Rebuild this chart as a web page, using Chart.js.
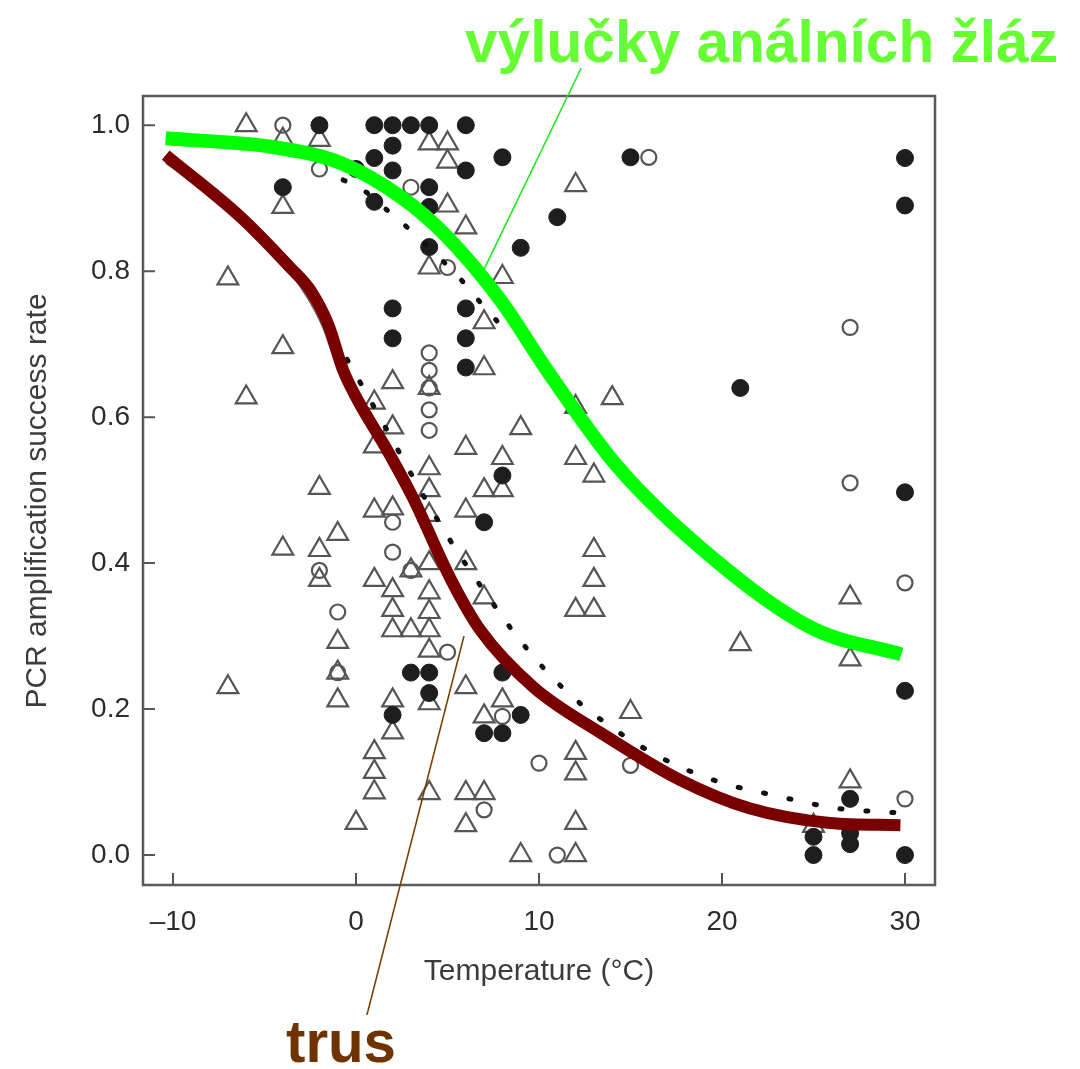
<!DOCTYPE html>
<html>
<head>
<meta charset="utf-8">
<script src="https://cdn.jsdelivr.net/npm/chart.js@4.4.1/dist/chart.umd.min.js"></script>
<style>
  html, body { margin: 0; background: #fff; }
  #wrap { width: 1080px; height: 1069px; }
</style>
</head>
<body>
<div id="wrap"><canvas id="pcrChart"></canvas></div>
<script>
// Axis ticks
const xTicks = [-10, 0, 10, 20, 30];
const yTicks = [0, 0.2, 0.4, 0.6, 0.8, 1.0];

// Samples: [temperature °C, PCR amplification success rate]
const filledPts = [
  [-4, 0.915], [-2, 1.0], [0, 0.94], [1, 1.0], [2, 1.0], [3, 1.0], [4, 1.0], [6, 1.0],
  [2, 0.972], [1, 0.955], [2, 0.938], [1, 0.895], [4, 0.915], [4, 0.888], [6, 0.938],
  [8, 0.956], [15, 0.956], [11, 0.874], [9, 0.832], [4, 0.833], [6, 0.749], [6, 0.708],
  [6, 0.668], [2, 0.749], [2, 0.708], [8, 0.52], [7, 0.456], [3, 0.25], [4, 0.25],
  [4, 0.222], [2, 0.192], [8, 0.25], [9, 0.192], [7, 0.167], [8, 0.167], [21, 0.64],
  [30, 0.955], [30, 0.89], [30, 0.497], [30, 0.225], [30, 0.0], [27, 0.077], [27, 0.03],
  [27, 0.015], [25, 0.025], [25, 0.0],
];
const openPts = [
  [-4, 1.0], [-2, 0.94], [3, 0.915], [5, 0.805], [16, 0.956], [4, 0.688], [4, 0.664],
  [4, 0.64], [4, 0.61], [4, 0.582], [2, 0.456], [2, 0.415], [-2, 0.39], [3, 0.39],
  [-1, 0.333], [-1, 0.25], [5, 0.278], [8, 0.19], [7, 0.062], [10, 0.126], [15, 0.123],
  [11, 0.0], [27, 0.723], [27, 0.51], [30, 0.373], [30, 0.077],
];
const trianglePts = [
  [-6, 1.0], [-4, 0.98], [-2, 0.98], [-4, 0.888], [-7, 0.79], [-4, 0.696], [-6, 0.627],
  [-2, 0.503], [-4, 0.42], [-2, 0.418], [-2, 0.377], [-1, 0.44], [-1, 0.292], [-1, 0.25],
  [-1, 0.212], [-7, 0.23], [0, 0.044], [1, 0.62], [1, 0.56], [1, 0.472], [1, 0.377],
  [1, 0.141], [1, 0.114], [1, 0.086], [2, 0.648], [2, 0.586], [2, 0.475], [2, 0.363],
  [2, 0.336], [2, 0.308], [2, 0.212], [2, 0.168], [3, 0.39], [3, 0.308], [4, 0.975],
  [5, 0.975], [5, 0.95], [5, 0.89], [4, 0.805], [6, 0.86], [8, 0.792], [7, 0.73],
  [7, 0.667], [4, 0.64], [4, 0.53], [4, 0.5], [4, 0.466], [4, 0.4], [4, 0.36], [4, 0.333],
  [4, 0.308], [4, 0.28], [4, 0.208], [4, 0.085], [6, 0.558], [6, 0.472], [6, 0.4],
  [6, 0.23], [6, 0.085], [6, 0.041], [7, 0.5], [7, 0.353], [7, 0.19], [7, 0.085],
  [8, 0.544], [8, 0.5], [8, 0.212], [9, 0.585], [9, 0.0], [12, 0.918], [12, 0.614],
  [12, 0.544], [13, 0.52], [14, 0.626], [13, 0.418], [13, 0.377], [12, 0.336], [13, 0.336],
  [12, 0.14], [12, 0.112], [12, 0.044], [12, 0.0], [15, 0.196], [21, 0.289], [27, 0.353],
  [27, 0.268], [27, 0.101], [25, 0.04],
];

// Fitted curves (traced)
const glandCurve = [
  [-10.4, 0.982], [-4.5, 0.970], [-0.8, 0.948], [2.5, 0.901], [4.9, 0.849], [7.9, 0.760],
  [10.5, 0.662], [14.3, 0.532], [19.5, 0.407], [25.0, 0.310], [29.8, 0.275],
];
const fecesCurve = [
  [-10.4, 0.959], [-6.3, 0.874], [-3.6, 0.805], [-2.5, 0.774], [-1.5, 0.726], [-0.7, 0.664],
  [0.1, 0.623], [1.7, 0.555], [3.1, 0.490], [5.2, 0.377], [6.8, 0.308], [9.7, 0.230],
  [13.4, 0.167], [17.7, 0.103], [21.5, 0.064], [25.9, 0.044], [29.75, 0.041],
];
const glandDotted = [
  [-0.7, 0.925], [0.4, 0.911], [2.0, 0.877], [2.8, 0.86], [5.9, 0.784], [6.7, 0.76], [7.8, 0.729],
];
const fecesDotted = [
  [-1.2, 0.71], [0.4, 0.64], [2.05, 0.566], [3.6, 0.496], [5.3, 0.425], [7.0, 0.362],
  [9.1, 0.29], [11.3, 0.229], [13.8, 0.178], [16.7, 0.133], [19.75, 0.101], [23.0, 0.081],
  [26.3, 0.064], [29.5, 0.058],
];
const fecesThin = [
  [-10.4, 0.948], [-8.0, 0.905], [-6.3, 0.866], [-3.6, 0.798], [-1.9, 0.728], [-1.2, 0.68],
];

// Annotation labels and leader ends (data coordinates)
const glandLabel = 'výlučky análních žláz';
const fecesLabel = 'trus';
const glandLeader = [[6.95, 0.80], [12.3, 1.078]];
const fecesLeader = [[5.9, 0.30], [0.6, -0.219]];

const toXY = (pts) => pts.map(([x, y]) => ({ x, y }));

const curve = (data, color, width, extra = {}) => ({
  data: toXY(data),
  showLine: true,
  borderColor: color,
  borderWidth: width,
  pointRadius: 0,
  cubicInterpolationMode: 'monotone',
  borderCapStyle: 'butt',
  ...extra,
});

const markers = (data, style, radius, fill, stroke, width) => ({
  data: toXY(data),
  pointStyle: style,
  pointRadius: radius,
  pointBackgroundColor: fill,
  pointBorderColor: stroke,
  pointBorderWidth: width,
  order: 3,
});

function drawFitted(ctx, text, left, baseline, width, font, color) {
  ctx.save();
  ctx.font = font;
  ctx.fillStyle = color;
  ctx.textBaseline = 'alphabetic';
  const w = ctx.measureText(text).width;
  ctx.translate(left, baseline);
  ctx.scale(width / w, 1);
  ctx.fillText(text, 0, 0);
  ctx.restore();
}

const frameAndNotes = {
  id: 'frameAndNotes',
  afterDraw(chart) {
    const { ctx, chartArea: a, scales: { x, y } } = chart;
    ctx.save();
    // inward tick marks
    ctx.strokeStyle = '#555';
    ctx.lineWidth = 2;
    ctx.beginPath();
    xTicks.forEach((v) => {
      const px = x.getPixelForValue(v);
      ctx.moveTo(px, a.bottom);
      ctx.lineTo(px, a.bottom - 12);
    });
    yTicks.forEach((v) => {
      const py = y.getPixelForValue(v);
      ctx.moveTo(a.left, py);
      ctx.lineTo(a.left + 12, py);
    });
    ctx.stroke();
    ctx.lineWidth = 2.5;
    ctx.strokeStyle = '#5a5a5a';
    ctx.strokeRect(a.left, a.top, a.right - a.left, a.bottom - a.top);

    // axis titles
    ctx.fillStyle = '#3c3c3c';
    ctx.font = "30px 'Liberation Sans', Arial, sans-serif";
    ctx.textAlign = 'center';
    ctx.textBaseline = 'alphabetic';
    ctx.fillText('Temperature (°C)', (a.left + a.right) / 2, a.bottom + 95);
    ctx.save();
    ctx.translate(38, a.top + 405);
    ctx.rotate(-Math.PI / 2);
    ctx.textBaseline = 'middle';
    ctx.fillText('PCR amplification success rate', 0, 0);
    ctx.restore();

    // leader lines
    const seg = (pts, color) => {
      ctx.beginPath();
      ctx.strokeStyle = color;
      ctx.lineWidth = 1.6;
      ctx.moveTo(x.getPixelForValue(pts[0][0]), y.getPixelForValue(pts[0][1]));
      ctx.lineTo(x.getPixelForValue(pts[1][0]), y.getPixelForValue(pts[1][1]));
      ctx.stroke();
    };
    seg(glandLeader, '#22e622');
    seg(fecesLeader, '#7a3d00');
    ctx.restore();

    const boldNarrow = "bold 60px 'Liberation Sans Narrow', 'Liberation Sans', Arial, sans-serif";
    drawFitted(ctx, glandLabel, 465, 62, 593, boldNarrow, '#66ff33');
    drawFitted(ctx, fecesLabel, 286, 1062, 110, boldNarrow, '#6e3300');
  },
};

new Chart(document.getElementById('pcrChart'), {
  type: 'scatter',
  data: {
    datasets: [
      curve(glandCurve, '#00ff00', 14, { order: 0 }),
      curve(fecesCurve, '#7a0000', 12, { order: 0 }),
      curve(glandDotted, '#111', 5, { order: 1, borderDash: [2, 24], borderCapStyle: 'round' }),
      curve(fecesDotted, '#111', 5, { order: 1, borderDash: [2, 24], borderCapStyle: 'round' }),
      curve(fecesThin, '#666', 1.6, { order: 2 }),
      markers(filledPts, 'circle', 8.5, '#1e1e1e', '#1e1e1e', 1),
      markers(openPts, 'circle', 7.5, 'rgba(0,0,0,0)', '#555', 2.2),
      markers(trianglePts, 'triangle', 12, 'rgba(0,0,0,0)', '#555', 2.2),
    ],
  },
  options: {
    responsive: true,
    maintainAspectRatio: false,
    animation: false,
    layout: { padding: { top: 96, right: 145, left: 0, bottom: 0 } },
    scales: {
      x: {
        type: 'linear',
        min: -11.64,
        max: 31.64,
        afterBuildTicks: (scale) => { scale.ticks = xTicks.map((value) => ({ value })); },
        afterFit: (scale) => { scale.height = 184; },
        grid: { display: false },
        border: { display: false },
        ticks: {
          padding: 12,
          color: '#2c2c2c',
          font: { family: "'Liberation Sans', Arial, sans-serif", size: 28 },
          callback: (v) => (v < 0 ? '–' + Math.abs(v) : String(v)),
        },
      },
      y: {
        type: 'linear',
        min: -0.041,
        max: 1.04,
        afterBuildTicks: (scale) => { scale.ticks = yTicks.map((value) => ({ value })); },
        afterFit: (scale) => { scale.width = 143; },
        grid: { display: false },
        border: { display: false },
        ticks: {
          padding: 5,
          color: '#2c2c2c',
          font: { family: "'Liberation Sans', Arial, sans-serif", size: 28 },
          callback: (v) => v.toFixed(1),
        },
      },
    },
    plugins: {
      legend: { display: false },
      tooltip: { enabled: false },
    },
  },
  plugins: [frameAndNotes],
});
</script>
</body>
</html>
